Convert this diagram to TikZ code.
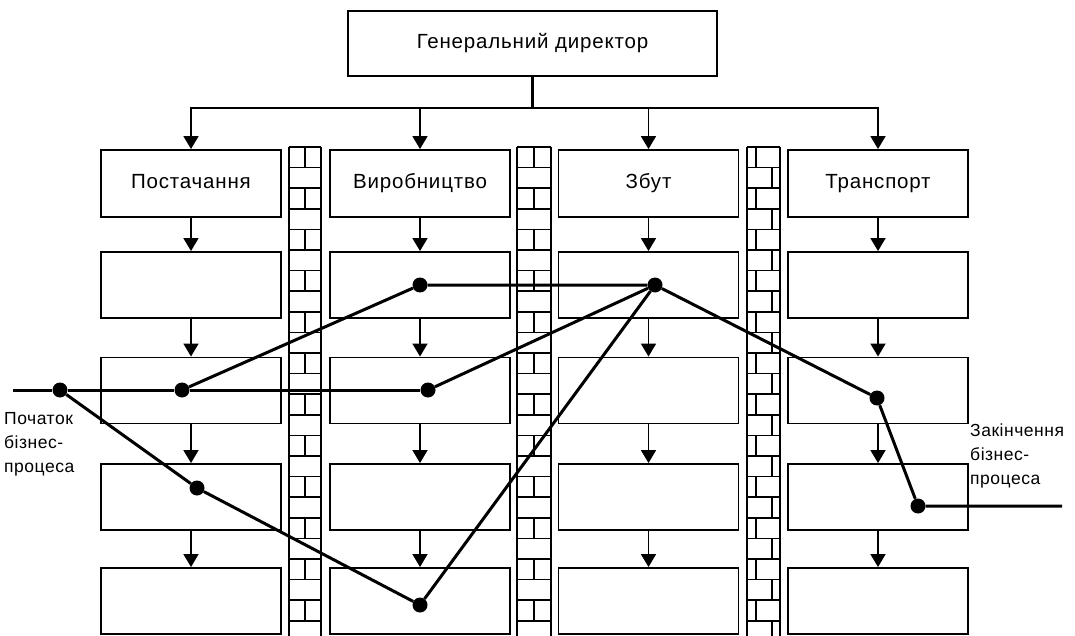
\documentclass[tikz,border=0pt]{standalone}
\usepackage{fontspec}
\setmainfont{Liberation Sans}
\newfontfamily\boxfont{Liberation Sans}[LetterSpace=4]
\newfontfamily\notefont{Liberation Sans}[LetterSpace=3]
\usetikzlibrary{arrows.meta}
\begin{document}
\begin{tikzpicture}[x=1pt,y=-1pt,
  unit box/.style={draw,line width=1.9pt,minimum width=180pt,minimum height=66pt,
    inner sep=0pt,text height=14pt,text depth=4pt,
    font=\boxfont\fontsize{20.5}{24}\selectfont},
  link/.style={line width=1.8pt,-{Triangle[width=15pt,length=13pt]}},
  route/.style={line width=3pt},
  dot/.style={circle,fill,inner sep=0pt,minimum size=15pt},
  wall/.style={line width=1.7pt},
  note/.style={align=left,inner sep=0pt,anchor=north west,
    font=\notefont\fontsize{17.5}{24}\selectfont}
]
\useasboundingbox (0,0) rectangle (1075,636);

% brick walls between the departments
\foreach \xl/\xr/\kind in {289/321/0, 517/551/0, 747/780/1} {
  \draw[wall] (\xl,147) -- (\xl,640) (\xr,147) -- (\xr,640);
  \foreach \k in {0,...,23} {
    \pgfmathsetmacro\ya{147+20.6*\k}
    \pgfmathsetmacro\yb{\ya+20.6}
    \draw[wall] (\xl,\ya) -- (\xr,\ya);
    \ifodd\k
      \ifnum\kind=1 \draw[wall] (\xr-8,\ya) -- (\xr-8,\yb); \fi
    \else
      \ifnum\kind=1
        \draw[wall] (\xl+9,\ya) -- (\xl+9,\yb);
      \else
        \draw[wall] ({(\xl+\xr)/2},\ya) -- ({(\xl+\xr)/2},\yb);
      \fi
    \fi
  }
}

% head of the company
\node[unit box,minimum width=369pt,minimum height=65pt] (gd) at (532.5,43.5) {Генеральний директор};

% departments
\node[unit box,minimum height=67pt] (b11) at (191,183.5) {Постачання};
\node[unit box,minimum height=67pt] (b21) at (420,183.5) {Виробництво};
\node[unit box,minimum height=67pt] (b31) at (648.5,183.5) {Збут};
\node[unit box,minimum height=67pt] (b41) at (878,183.5) {Транспорт};

% functional units below each department
\foreach \c/\x in {1/191,2/420,3/648.5,4/878} {
  \foreach \r/\y in {2/285,3/390.5,4/497,5/601}
    \node[unit box] (b\c\r) at (\x,\y) {};
}

% subordination
\draw[line width=3pt] (gd.south) -- ++(0,31);
\foreach \c in {1,...,4}
  \draw[link] (gd.south) -- ++(0,31) -| (b\c1.north);
\foreach \c in {1,...,4}
  \foreach \r/\n in {1/2,2/3,3/4,4/5}
    \draw[link] (b\c\r) -- (b\c\n);

% business process route
\coordinate (src) at (13,390);
\coordinate (dst) at (1062,506);
\node[dot] (p0) at (60,390) {};
\node[dot] (p1) at (182,390) {};
\node[dot] (p2) at (428,390) {};
\node[dot] (p3) at (420,285) {};
\node[dot] (p4) at (655,285) {};
\node[dot] (p5) at (197,488) {};
\node[dot] (p6) at (420,605) {};
\node[dot] (p7) at (877,398) {};
\node[dot] (p8) at (918,506) {};
\draw[route] (src) -- (p0) -- (p1) -- (p2);
\draw[route] (p1) -- (p3) -- (p4);
\draw[route] (p2) -- (p4);
\draw[route] (p0) -- (p5) -- (p6) -- (p4);
\draw[route] (p4) -- (p7) -- (p8) -- (dst);

% start and end labels
\node[note] (lstart) at (4,412) {Початок\\бізнес-\\процеса};
\node[note] (lend) at (970,424) {Закінчення\\бізнес-\\процеса};
\end{tikzpicture}
\end{document}
